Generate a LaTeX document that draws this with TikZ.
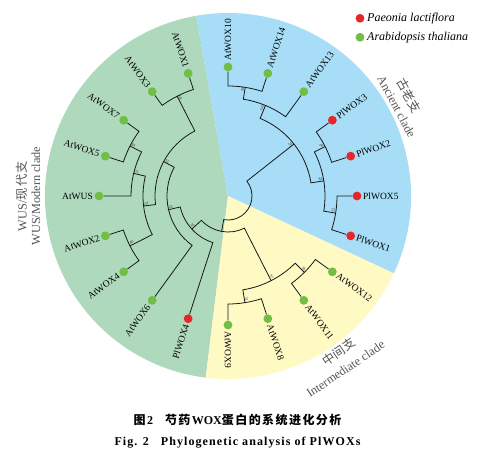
\documentclass[tikz,border=0pt]{standalone}
\usepackage{fontspec}
\setmainfont{Liberation Serif}
\newfontfamily\cjk{Noto Sans CJK SC}
\newfontfamily\cjkcap[LetterSpace=12]{Noto Sans CJK SC}
\newfontfamily\capfont[LetterSpace=9]{Liberation Serif}

\definecolor{modern}{RGB}{174,217,189}
\definecolor{ancient}{RGB}{167,221,246}
\definecolor{interm}{RGB}{255,249,196}
\definecolor{plred}{RGB}{232,38,42}
\definecolor{atgreen}{RGB}{114,190,68}
\definecolor{cladegray}{RGB}{85,85,85}

\tikzset{
  leaf/.style={circle, inner sep=0pt, minimum size=8.8pt},
  pldot/.style={leaf, fill=plred},
  atdot/.style={leaf, fill=atgreen},
  lab/.style={inner sep=0pt},
  branch/.style={line width=0.8pt, draw=black!90},
  bs/.style={font=\fontsize{4}{4}\selectfont, inner sep=0.6pt, text=black!80},
  clade/.style={font=\fontsize{12.3}{13}\selectfont, text=cladegray, inner sep=0pt}
}

\begin{document}
\begin{tikzpicture}[x=1pt, y=1pt, font=\fontsize{9.5}{11}\selectfont]
  \useasboundingbox (-228,-262) rectangle (251,196);

  % clade sectors
  \fill[modern] (0,0) -- (100:183) arc[start angle=100, end angle=263, radius=183pt] -- cycle;
  \fill[ancient] (0,0) -- (-25:183) arc[start angle=-25, end angle=100, radius=183pt] -- cycle;
  \fill[interm] (0,0) -- (-97:183) arc[start angle=-97, end angle=-25, radius=183pt] -- cycle;

  % leaves
  \node[atdot] (at10) at (90:129) {};   \node[lab, rotate=90, anchor=west] (at10-l) at (90:135) {AtWOX10};
  \node[atdot] (at14) at (72:129) {};   \node[lab, rotate=72, anchor=west] (at14-l) at (72:135) {AtWOX14};
  \node[atdot] (at13) at (54:129) {};   \node[lab, rotate=54, anchor=west] (at13-l) at (54:135) {AtWOX13};
  \node[pldot] (pl3) at (36:129) {};    \node[lab, rotate=36, anchor=west] (pl3-l) at (36:135) {PlWOX3};
  \node[pldot] (pl2) at (18:129) {};    \node[lab, rotate=18, anchor=west] (pl2-l) at (18:135) {PlWOX2};
  \node[pldot] (pl5) at (0:129) {};     \node[lab, rotate=0, anchor=west] (pl5-l) at (0:135) {PlWOX5};
  \node[pldot] (pl1) at (-18:129) {};   \node[lab, rotate=-18, anchor=west] (pl1-l) at (-18:135) {PlWOX1};
  \node[atdot] (at12) at (-36:129) {};  \node[lab, rotate=-36, anchor=west] (at12-l) at (-36:135) {AtWOX12};
  \node[atdot] (at11) at (-54:129) {};  \node[lab, rotate=-54, anchor=west] (at11-l) at (-54:135) {AtWOX11};
  \node[atdot] (at8) at (-72:129) {};   \node[lab, rotate=-72, anchor=west] (at8-l) at (-72:135) {AtWOX8};
  \node[atdot] (at9) at (-90:129) {};   \node[lab, rotate=-90, anchor=west] (at9-l) at (-90:135) {AtWOX9};
  \node[pldot] (pl4) at (252:129) {};   \node[lab, rotate=72, anchor=east] (pl4-l) at (252:135) {PlWOX4};
  \node[atdot] (at6) at (234:129) {};   \node[lab, rotate=54, anchor=east] (at6-l) at (234:135) {AtWOX6};
  \node[atdot] (at4) at (216:129) {};   \node[lab, rotate=36, anchor=east] (at4-l) at (216:135) {AtWOX4};
  \node[atdot] (at2) at (198:129) {};   \node[lab, rotate=18, anchor=east] (at2-l) at (198:135) {AtWOX2};
  \node[atdot] (wus) at (180:129) {};   \node[lab, rotate=0, anchor=east] (wus-l) at (180:135) {AtWUS};
  \node[atdot] (at5) at (162:129) {};   \node[lab, rotate=-18, anchor=east] (at5-l) at (162:135) {AtWOX5};
  \node[atdot] (at7) at (144:129) {};   \node[lab, rotate=-36, anchor=east] (at7-l) at (144:135) {AtWOX7};
  \node[atdot] (at3) at (126:129) {};   \node[lab, rotate=-54, anchor=east] (at3-l) at (126:135) {AtWOX3};
  \node[atdot] (at1) at (108:129) {};   \node[lab, rotate=-72, anchor=east] (at1-l) at (108:135) {AtWOX1};

  % inner nodes
  \coordinate (a1014) at (81:110);
  \coordinate (a13) at (67.5:98);
  \coordinate (p32) at (27:109);
  \coordinate (p51) at (-9:109);
  \coordinate (pg) at (9:97);
  \coordinate (anc) at (38.25:84);
  \coordinate (i1211) at (-45:108);
  \coordinate (i89) at (-81:108);
  \coordinate (int) at (-63:95);
  \coordinate (m13) at (117:112);
  \coordinate (m75) at (153:110);
  \coordinate (m31) at (166.5:97);
  \coordinate (m24) at (207:110);
  \coordinate (m2431) at (186.75:85);
  \coordinate (m52) at (151.875:73);
  \coordinate (m32) at (192.94:61);
  \coordinate (m65) at (222.47:49);
  \coordinate (r2) at (259.74:36);

  % branches
  \draw[branch] (at10) -- (90:110) arc[start angle=90, end angle=72, radius=110pt] -- (at14);
  \draw[branch] (a1014) -- (81:98) arc[start angle=81, end angle=54, radius=98pt] -- (at13);
  \draw[branch] (pl3) -- (36:109) arc[start angle=36, end angle=18, radius=109pt] -- (pl2);
  \draw[branch] (pl5) -- (0:109) arc[start angle=0, end angle=-18, radius=109pt] -- (pl1);
  \draw[branch] (p32) -- (27:97) arc[start angle=27, end angle=-9, radius=97pt] -- (p51);
  \draw[branch] (a13) -- (67.5:84) arc[start angle=67.5, end angle=9, radius=84pt] -- (pg);
  \draw[branch] (at12) -- (-36:108) arc[start angle=-36, end angle=-54, radius=108pt] -- (at11);
  \draw[branch] (at8) -- (-72:108) arc[start angle=-72, end angle=-90, radius=108pt] -- (at9);
  \draw[branch] (i1211) -- (-45:95) arc[start angle=-45, end angle=-81, radius=95pt] -- (i89);
  \draw[branch] (at1) -- (108:112) arc[start angle=108, end angle=126, radius=112pt] -- (at3);
  \draw[branch] (at7) -- (144:110) arc[start angle=144, end angle=162, radius=110pt] -- (at5);
  \draw[branch] (m75) -- (153:97) arc[start angle=153, end angle=180, radius=97pt] -- (wus);
  \draw[branch] (at2) -- (198:110) arc[start angle=198, end angle=216, radius=110pt] -- (at4);
  \draw[branch] (m31) -- (166.5:85) arc[start angle=166.5, end angle=207, radius=85pt] -- (m24);
  \draw[branch] (m13) -- (117:73) arc[start angle=117, end angle=186.75, radius=73pt] -- (m2431);
  \draw[branch] (m52) -- (151.875:61) arc[start angle=151.875, end angle=234, radius=61pt] -- (at6);
  \draw[branch] (m32) -- (192.94:49) arc[start angle=192.94, end angle=252, radius=49pt] -- (pl4);
  \draw[branch] (m65) -- (222.47:36) arc[start angle=222.47, end angle=297, radius=36pt] -- (int);
  \draw[branch] (r2) -- (259.74:24) arc[start angle=259.74, end angle=398.25, radius=24pt] -- (anc);

  % bootstrap values
  \node[bs, rotate=81, anchor=south east] (b1014) at (a1014) {98};
  \node[bs, rotate=67.5, anchor=south east] (b13) at (a13) {100};
  \node[bs, rotate=27, anchor=south east] (b32) at (p32) {99};
  \node[bs, rotate=-9, anchor=south east] (b51) at (p51) {55};
  \node[bs, rotate=9, anchor=south east] (bpg) at (pg) {84};
  \node[bs, rotate=38.25, anchor=south east] (banc) at (anc) {55};
  \node[bs, rotate=-45, anchor=south east] (b1211) at (i1211) {36};
  \node[bs, rotate=-81, anchor=south east] (b89) at (i89) {31};
  \node[bs, rotate=-63, anchor=south east] (bint) at (int) {97};
  \node[bs, rotate=-63, anchor=south west] (bm13) at (m13) {58};
  \node[bs, rotate=-27, anchor=south west] (bm75) at (m75) {86};
  \node[bs, rotate=-13.5, anchor=south west] (bm31) at (m31) {31};
  \node[bs, rotate=27, anchor=south west] (bm24) at (m24) {40};
  \node[bs, rotate=6.75, anchor=south west] (bm2431) at (m2431) {24};
  \node[bs, rotate=-28.1, anchor=south west] (bm52) at (m52) {52};
  \node[bs, rotate=12.94, anchor=south west] (bm32) at (m32) {32};
  \node[bs, rotate=42.47, anchor=south west] (bm65) at (m65) {65};

  % clade names
  \node[clade, rotate=90] (modcn) at (180:206) {WUS/{\cjkcap 现代支}};
  \node[clade, rotate=90] (moden) at (180:192) {WUS/Modern clade};
  \node[clade, rotate=-61] (anccn) at (29:207) {\cjk 古老支};
  \node[clade, rotate=-62] (ancen) at (28:191) {Ancient clade};
  \node[clade, rotate=35] (intcn) at (-54.6:191) {\cjk 中间支};
  \node[clade, rotate=34] (inten) at (-55.8:209) {Intermediate clade};

  % legend
  \node[pldot] (keypl) at (132,177.7) {};
  \node[lab, anchor=west, font=\fontsize{12}{14}\selectfont\itshape] (keypl-l) at (139,177.7) {Paeonia lactiflora};
  \node[atdot] (keyat) at (132,158.7) {};
  \node[lab, anchor=west, font=\fontsize{12}{14}\selectfont\itshape] (keyat-l) at (139,158.7) {Arabidopsis thaliana};

  % caption
  \node[lab, font=\fontsize{12}{14}\selectfont] (capcn) at (9.5,-224)
    {{\cjkcap\bfseries 图}\textbf{2}\hspace{12pt}{\cjkcap\bfseries 芍药}\textbf{WOX}{\cjkcap\bfseries 蛋白的系统进化分析}};
  \node[lab, font=\capfont\bfseries\fontsize{12}{14}\selectfont] (capen) at (9.5,-247)
    {Fig. 2\hspace{12pt}Phylogenetic analysis of PlWOXs};
\end{tikzpicture}
\end{document}
